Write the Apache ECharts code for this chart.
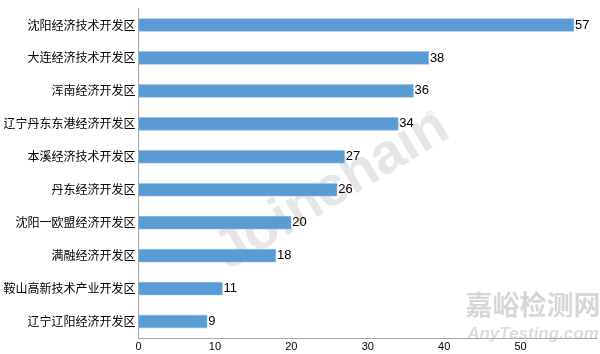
<!DOCTYPE html>
<html>
<head>
<meta charset="utf-8">
<script src="https://cdn.jsdelivr.net/npm/echarts@6/dist/echarts.min.js"></script>
<style>html,body{margin:0;padding:0;background:#fff;}#c{width:600px;height:354px;}</style>
</head>
<body>
<div id="c"></div>
<script>
var categories = ['沈阳经济技术开发区','大连经济技术开发区','浑南经济开发区','辽宁丹东东港经济开发区','本溪经济技术开发区','丹东经济开发区','沈阳一欧盟经济开发区','满融经济开发区','鞍山高新技术产业开发区','辽宁辽阳经济开发区'];
var values = [57,38,36,34,27,26,20,18,11,9];
var xTicks = {min:0, max:60, interval:10};

var chart = echarts.init(document.getElementById('c'), null, {renderer:'canvas'});
chart.setOption({
  animation:false,
  backgroundColor:'#fff',
  grid:{left:138.5, right:3, top:8.5, bottom:16, containLabel:false},
  xAxis:{
    type:'value', min:xTicks.min, max:xTicks.max, interval:xTicks.interval,
    axisLine:{show:true, lineStyle:{color:'#a6a6a6', width:1}},
    axisTick:{show:false},
    splitLine:{show:false},
    axisLabel:{color:'#000', fontSize:11, fontFamily:'Liberation Sans, Arial, sans-serif', margin:3, showMaxLabel:false}
  },
  yAxis:{
    type:'category', data:categories, inverse:true,
    axisLine:{show:true, lineStyle:{color:'#a6a6a6', width:1}},
    axisTick:{show:false},
    axisLabel:{color:'#000', fontSize:12, fontFamily:'Noto Sans CJK SC, sans-serif', margin:3}
  },
  graphic:[
    {type:'text', z:0, x:332, y:190, rotation:31*Math.PI/180,
     style:{text:'Joinchain', fill:'#e6e6e6', font:'bold 56px Liberation Sans, Arial, sans-serif', textAlign:'center', textVerticalAlign:'middle'}},
    {type:'text', z:0, x:430, y:118,
     style:{text:'®', fill:'#e0e0e0', font:'12px Liberation Sans, sans-serif', textAlign:'center', textVerticalAlign:'middle'}},
    {type:'text', z:0, x:533, y:305,
     style:{text:'嘉峪检测网', fill:'#d6d6d6', font:'bold 27px Noto Sans CJK SC, sans-serif', textAlign:'center', textVerticalAlign:'middle'}},
    {type:'text', z:0, x:533, y:334,
     style:{text:'AnyTesting.com', fill:'#dcdcdc', font:'italic bold 17px Liberation Sans, Arial, sans-serif', textAlign:'center', textVerticalAlign:'middle'}}
  ],
  series:[{
    type:'bar', data:values, barWidth:'40%', z:5,
    itemStyle:{color:'#5b9bd5', borderColor:'#8fbbe3', borderWidth:0.5},
    label:{show:true, position:'right', distance:1, color:'#000', fontSize:13, fontFamily:'Liberation Sans, Arial, sans-serif'}
  }]
});
</script>
</body>
</html>
